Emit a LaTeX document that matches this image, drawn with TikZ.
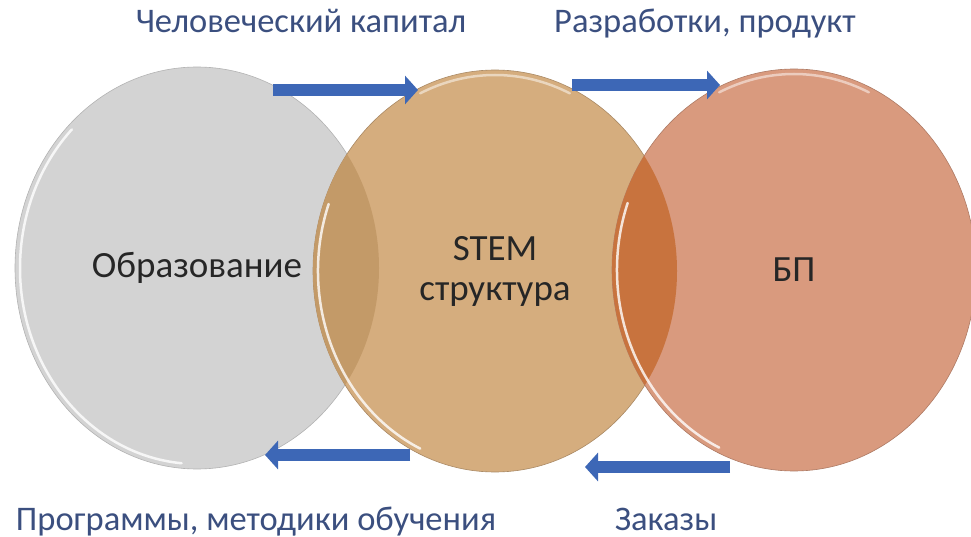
\documentclass[tikz,border=0pt]{standalone}
\usepackage{fontspec}
\setmainfont{Carlito}
\usetikzlibrary{arrows.meta,shapes.geometric}
\definecolor{greydisc}{HTML}{D3D3D3}
\definecolor{tandisc}{HTML}{D5AD7E}
\definecolor{salmondisc}{HTML}{D99A7E}
\definecolor{greytan}{HTML}{C39A68}
\definecolor{tansalmon}{HTML}{C8733E}
\definecolor{flowblue}{HTML}{3D67B6}
\definecolor{capblue}{HTML}{3B4F7F}
\definecolor{inner}{HTML}{262626}

\begin{document}
\begin{tikzpicture}[x=1pt,y=-1pt,
  disc/.style={ellipse,minimum width=364pt,minimum height=402pt,inner sep=0pt,
    text=inner,align=center,font=\fontsize{37}{40}\selectfont},
  rim/.style={white,line width=2.5pt,line cap=round,opacity=.8},
  flow/.style={draw=flowblue,line width=12pt,-{Triangle[width=28pt,length=13pt]}},
  caption/.style={anchor=base,text=capblue,font=\fontsize{34.5}{40}\selectfont}]
\useasboundingbox (0,0) rectangle (971,537);

% the three circles
\node[disc,fill=greydisc,draw=greydisc!85!black,line width=.6pt] (edu) at (197,268) {Образование};
\node[disc,fill=tandisc,draw=tandisc!80!black,line width=.6pt] (stem) at (495,271) {STEM\\структура};
\node[disc,fill=salmondisc,draw=salmondisc!80!black,line width=.6pt] (bp) at (794,270) {БП};

% overlaps
\begin{scope}
\clip (edu.center) ellipse [x radius=182,y radius=201];
\fill[greytan] (stem.center) ellipse [x radius=182,y radius=201];
\end{scope}
\begin{scope}
\clip (stem.center) ellipse [x radius=182,y radius=201];
\fill[tansalmon] (bp.center) ellipse [x radius=182,y radius=201];
\end{scope}

% highlights on the rims
\draw[rim] (edu.center) ++(95:177 and 196) arc [start angle=95,end angle=225,x radius=177,y radius=196];
\draw[rim] (stem.center) ++(115:177 and 196) arc [start angle=115,end angle=200,x radius=177,y radius=196];
\draw[rim,opacity=.5] (stem.center) ++(245:177 and 196) arc [start angle=245,end angle=295,x radius=177,y radius=196];
\draw[rim] (bp.center) ++(115:177 and 196) arc [start angle=115,end angle=200,x radius=177,y radius=196];
\draw[rim,opacity=.5] (bp.center) ++(245:177 and 196) arc [start angle=245,end angle=295,x radius=177,y radius=196];

% arrow ends
\coordinate (hcs) at (273,90);
\coordinate (hce) at (418,90);
\coordinate (dps) at (572,85);
\coordinate (dpe) at (720,85);
\coordinate (pms) at (410,455);
\coordinate (pme) at (265,455);
\coordinate (ors) at (730,467);
\coordinate (ore) at (585,467);

\draw[flow] (hcs) -- (hce);
\draw[flow] (dps) -- (dpe);
\draw[flow] (pms) -- (pme);
\draw[flow] (ors) -- (ore);

% captions
\node[caption] (hc) at (301,33) {Человеческий капитал};
\node[caption] (dp) at (705,33) {Разработки, продукт};
\node[caption] (pm) at (256,530) {Программы, методики обучения};
\node[caption] (or) at (666,530) {Заказы};
\end{tikzpicture}
\end{document}
